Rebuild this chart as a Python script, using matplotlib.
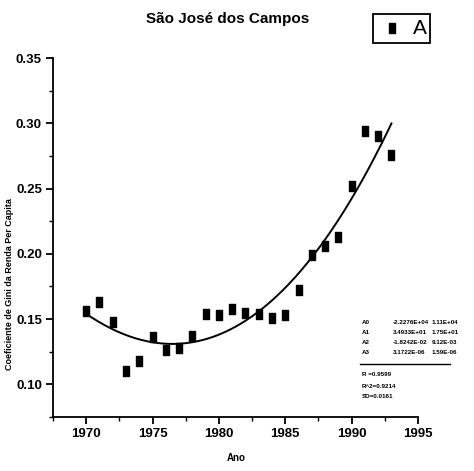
import numpy as np
import matplotlib
matplotlib.use("Agg")
import matplotlib.pyplot as plt
from matplotlib.path import Path

years = [1970, 1971, 1972, 1973, 1974, 1975, 1976, 1977, 1978, 1979, 1980, 1981,
         1982, 1983, 1984, 1985, 1986, 1987, 1988, 1989, 1990, 1991, 1992, 1993]
gini = [0.156, 0.163, 0.148, 0.110, 0.118, 0.136, 0.126, 0.128, 0.137, 0.154, 0.153, 0.158,
        0.155, 0.154, 0.151, 0.153, 0.172, 0.199, 0.206, 0.213, 0.252, 0.294, 0.290, 0.276]
xticks = [1970, 1975, 1980, 1985, 1990, 1995]
yticks = [0.10, 0.15, 0.20, 0.25, 0.30, 0.35]
ytick_labels = ["0.10", "0.15", "0.20", "0.25", "0.30", "0.35"]
title = "São José dos Campos"
xlabel = "Ano"
ylabel = "Coeficiente de Gini da Renda Per Capita"
legend_label = "A"

FONT = ["Liberation Sans", "DejaVu Sans"]
plt.rcParams['font.family'] = FONT

x = np.array(years, dtype=float)
y = np.array(gini)
coef = np.polyfit(x - 1980, y, 3)
xs = np.linspace(1970, 1993, 200)
ys = np.polyval(coef, xs - 1980)
fit = np.polyval(coef, x - 1980)
ss_res = np.sum((y - fit) ** 2)
ss_tot = np.sum((y - y.mean()) ** 2)
r2 = 1 - ss_res / ss_tot
sd = np.sqrt(ss_res / (len(y) - 4))
raw = np.polyfit(x, y, 3)[::-1]

fig = plt.figure(figsize=(4.74, 4.71), dpi=100)
ax = fig.add_axes([53 / 474, 1 - 417 / 471, (418 - 53) / 474, (417 - 58) / 471])

rect = Path([(-0.33, -0.5), (0.33, -0.5), (0.33, 0.5), (-0.33, 0.5), (-0.33, -0.5)],
            [Path.MOVETO, Path.LINETO, Path.LINETO, Path.LINETO, Path.CLOSEPOLY])
ax.plot(x, y, linestyle='none', marker=rect, markersize=7, color='black')
ax.plot(xs, ys, color='black', lw=1.4)

ax.set_xlim(1967.5, 1995)
ax.set_ylim(0.075, 0.35)
ax.set_xticks(xticks)
ax.set_xticks(np.arange(1967.5, 1995.1, 5), minor=True)
ax.set_yticks(yticks)
ax.set_yticklabels(ytick_labels)
ax.set_yticks(np.arange(0.075, 0.35, 0.05), minor=True)
for s in ['top', 'right']:
    ax.spines[s].set_visible(False)
for s in ['left', 'bottom']:
    ax.spines[s].set_linewidth(1.3)
ax.tick_params(which='major', direction='out', length=5, width=1.3, labelsize=9.5, pad=3)
ax.tick_params(which='minor', direction='out', length=3, width=1.0)
for lab in ax.get_xticklabels() + ax.get_yticklabels():
    lab.set_fontweight('bold')

fig.text(228 / 474, 1 - 19 / 471, title, ha='center', va='center', fontsize=11,
         fontweight='bold', family=FONT)
fig.text(236 / 474, 1 - 458 / 471, xlabel, ha='center', va='center', fontsize=7,
         fontweight='bold', family=FONT)
fig.text(10 / 474, 1 - 284 / 471, ylabel, ha='center', va='center', rotation=90,
         fontsize=6.5, fontweight='bold', family=FONT)

# legend box
fig.patches.append(plt.Rectangle((373 / 474, 1 - 43 / 471), 57 / 474, 29 / 471,
                                 transform=fig.transFigure, fill=False, lw=1.3,
                                 edgecolor='black'))
fig.lines.append(plt.Line2D([392 / 474], [1 - 28 / 471], marker=rect, markersize=7,
                            color='black', transform=fig.transFigure))
fig.text(420 / 474, 1 - 28 / 471, legend_label, ha='center', va='center', fontsize=15,
         family=FONT)

# stats box
rows_y = [322, 332, 342, 352]
for i, (yy, c) in enumerate(zip(rows_y, raw)):
    fig.text(362 / 474, 1 - yy / 471, f"A{i}", fontsize=4.5, fontweight='bold',
             va='center', family=FONT)
    fig.text(393 / 474, 1 - yy / 471, f"{c:.4E}", fontsize=4.5, fontweight='bold',
             va='center', family=FONT)
    fig.text(432 / 474, 1 - yy / 471, f"{abs(c) * 0.5:.2E}", fontsize=4.5,
             fontweight='bold', va='center', family=FONT)
fig.lines.append(plt.Line2D([360 / 474, 450 / 474], [1 - 364 / 471, 1 - 364 / 471],
                            color='black', lw=1.0, transform=fig.transFigure))
stats = [f"R =0.{int(np.sqrt(r2) * 10000):04d}", f"R^2=0.{int(r2 * 10000):04d}",
         f"SD=0.{int(round(sd * 10000)):04d}"]
for yy, t in zip([375, 386, 397], stats):
    fig.text(362 / 474, 1 - yy / 471, t, fontsize=4.5, fontweight='bold', va='center',
             family=FONT)

fig.savefig("out.png", dpi=100)
